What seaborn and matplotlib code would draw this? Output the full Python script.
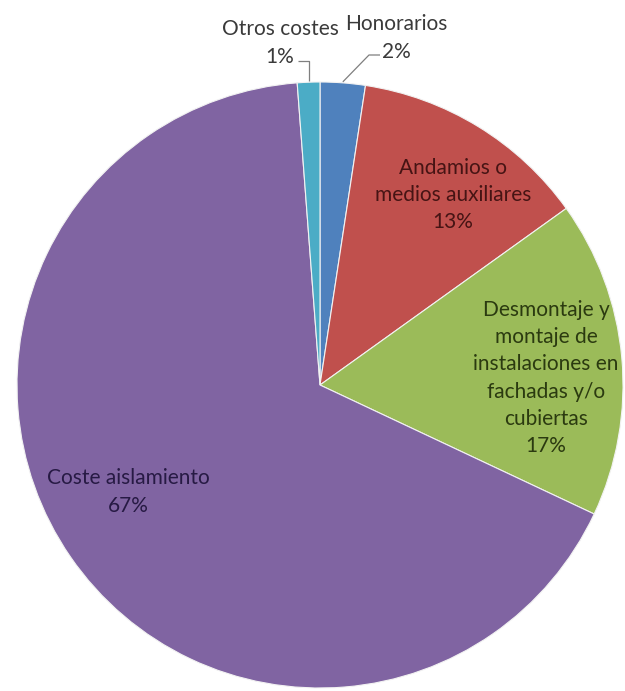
import numpy as np
import matplotlib.pyplot as plt
import seaborn as sns

# Datos (porcentajes del coste total)
categorias = ["Honorarios", "Andamios o\nmedios auxiliares",
              "Desmontaje y\nmontaje de\ninstalaciones en\nfachadas y/o\ncubiertas",
              "Coste aislamiento", "Otros costes"]
valores = [2.4, 12.7, 16.9, 66.8, 1.2]
colores = ["#4F81BD", "#C0504D", "#9BBB59", "#8064A2", "#4BACC6"]
colores_texto = ["#3a3a3a", "#461414", "#2b3a10", "#271a44", "#3a3a3a"]

W, H = 625, 691


def px(x, y):
    # coordenadas de píxel (origen arriba-izquierda) -> datos
    return x, H - y


def main():
    sns.set_theme(style="white")
    plt.rcParams["font.family"] = ["Lato", "DejaVu Sans"]

    fig = plt.figure(figsize=(W / 100, H / 100), dpi=100)
    ax = fig.add_axes([0, 0, 1, 1])
    ax.set_xlim(0, W)
    ax.set_ylim(0, H)
    ax.set_aspect("equal")
    ax.axis("off")

    cx, cy = px(320, 385)
    radio = 303
    wedges, _ = ax.pie(valores, colors=colores, startangle=90, counterclock=False,
                       center=(cx, cy), radius=radio,
                       wedgeprops=dict(edgecolor="#f2f2f2", linewidth=0.8))
    ax.set_xlim(0, W)
    ax.set_ylim(0, H)

    etiquetas = [f"{c}\n{round(v)}%" for c, v in zip(categorias, valores)]
    fs = 15
    ls = 1.45

    # Etiquetas dentro de las porciones
    dentro = {1: (453, 195), 2: (546, 378), 3: (128, 492)}
    for i, (x, y) in dentro.items():
        ax.text(*px(x, y), etiquetas[i], ha="center", va="center", fontsize=fs,
                color=colores_texto[i], linespacing=ls)

    # Etiquetas exteriores con líneas guía
    fuera = {0: ((396, 38), (380, 55), 1), 4: ((280, 43), (298, 61), -1)}
    for i, ((tx, ty), (ex, ey), lado) in fuera.items():
        w = wedges[i]
        ang = np.deg2rad((w.theta1 + w.theta2) / 2)
        ax_x = cx + radio * np.cos(ang)
        ax_y = cy + radio * np.sin(ang)
        ex_d, ey_d = px(ex, ey)
        if lado > 0:
            codo = (ex_d - 11, ey_d)
        else:
            codo = (ax_x, ey_d)
        ax.plot([ax_x, codo[0], ex_d], [ax_y + 1, codo[1], ey_d],
                color="#7f7f7f", lw=0.9, solid_capstyle="butt")
        ax.text(*px(tx, ty), etiquetas[i], ha="center", va="center", fontsize=fs,
                color=colores_texto[i], linespacing=ls)

    fig.savefig("out.png", dpi=100)


if __name__ == "__main__":
    main()
